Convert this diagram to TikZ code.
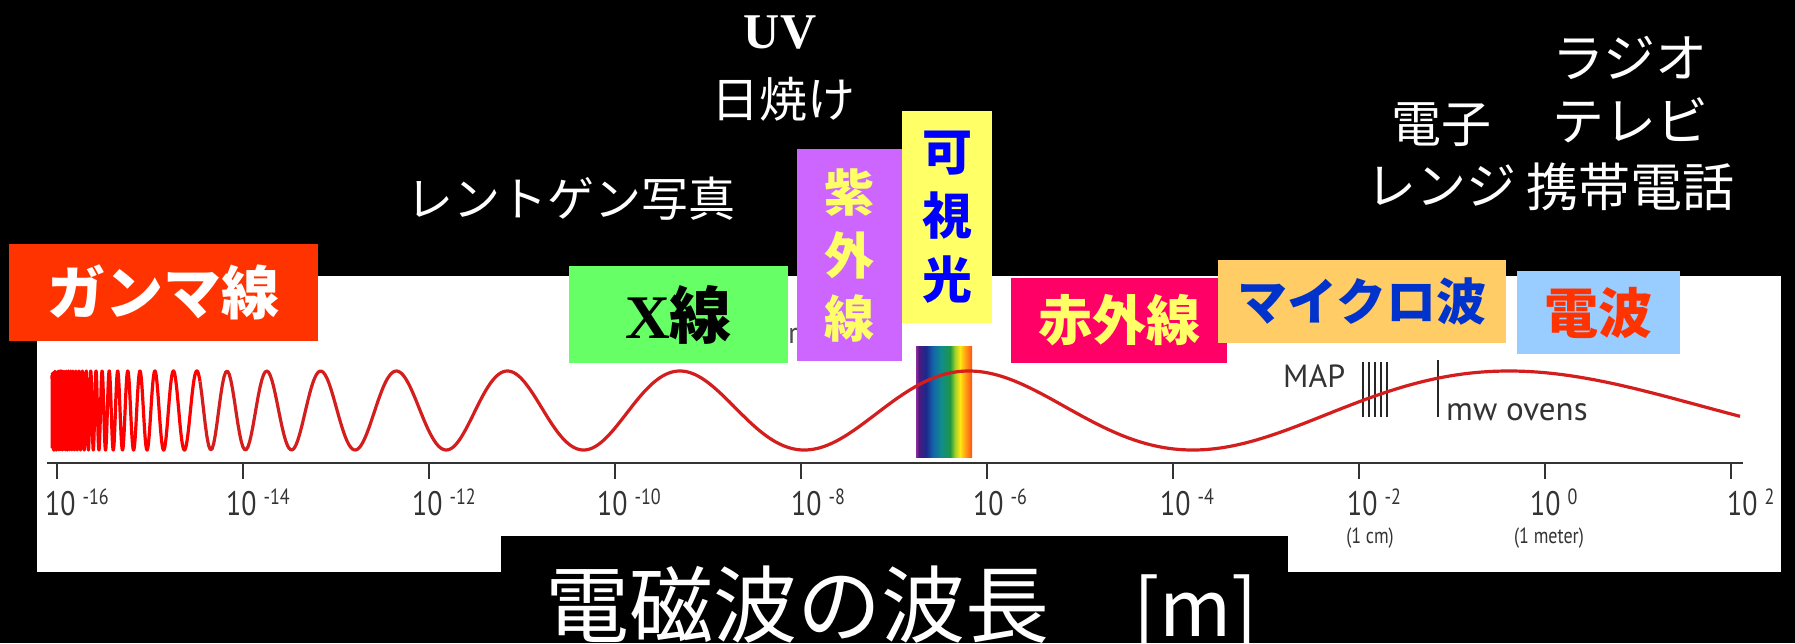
\documentclass[tikz,border=0pt]{standalone}
\usepackage{fontspec}
\setmainfont{Liberation Serif}
\newfontfamily\jp{Noto Sans CJK JP}
\newfontfamily\tms{Liberation Serif}
\newfontfamily\axf[FakeStretch=0.82]{PT Sans}
\newfontfamily\axn{PT Sans}
\definecolor{cGamma}{HTML}{FF3300}
\definecolor{cX}{HTML}{66FF66}
\definecolor{cUVbox}{HTML}{CC66FF}
\definecolor{cYel}{HTML}{FFFF66}
\definecolor{cBlue}{HTML}{0000FF}
\definecolor{cIR}{HTML}{FF0066}
\definecolor{cMW}{HTML}{FFCC66}
\definecolor{cMWtext}{HTML}{0033CC}
\definecolor{cRadio}{HTML}{99CCFF}
\definecolor{cWave}{HTML}{D41E1E}
\definecolor{cAxis}{HTML}{333333}
\definecolor{r1}{HTML}{8B2D9B}
\definecolor{r2}{HTML}{4B1A80}
\definecolor{r3}{HTML}{1A2A8C}
\definecolor{r4}{HTML}{1464A8}
\definecolor{r5}{HTML}{0F8C8C}
\definecolor{r6}{HTML}{1E9646}
\definecolor{r7}{HTML}{A0D228}
\definecolor{r8}{HTML}{FFE614}
\definecolor{r9}{HTML}{FF9614}
\definecolor{r10}{HTML}{FF5014}
\tikzset{
  box/.style={inner sep=0, outer sep=0, draw=none, align=center},
  wlabel/.style={inner sep=0, text=white, anchor=base, font={\jp\fontsize{50}{50}\selectfont}},
  ticklab/.style={inner sep=0, anchor=base west, text=cAxis, font={\axf\fontsize{34}{34}\selectfont}},
  smalllab/.style={inner sep=0, text=cAxis, font={\axf\fontsize{22}{22}\selectfont}},
  tickmark/.style={draw=cAxis, line width=2pt},
  wave/.style={line width=3.2pt, line join=round},
  bar/.style={draw=black!85, line width=2.8pt}
}
\begin{document}
\begin{tikzpicture}[x=1pt,y=-1pt]
\useasboundingbox (0,0) rectangle (1795,643);
\fill[black] (0,0) rectangle (1795,643);
% white chart panel
\fill[white] (37,276) rectangle (1781,572);
% remnant text fragment
\node[inner sep=0, anchor=base west, text=black!70, font={\axn\fontsize{30}{30}\selectfont}] (ra) at (788,343) {ra};
% rainbow
\shade[left color=r1, right color=r2] (916,346) rectangle (919,457);
\shade[left color=r2, right color=r3] (919,346) rectangle (926,457);
\shade[left color=r3, right color=r4] (926,346) rectangle (933,457);
\shade[left color=r4, right color=r5] (933,346) rectangle (941,457);
\shade[left color=r5, right color=r6] (941,346) rectangle (950,457);
\shade[left color=r6, right color=r7] (950,346) rectangle (955,457);
\shade[left color=r7, right color=r8] (955,346) rectangle (960,457);
\shade[left color=r8, right color=r9] (960,346) rectangle (966,457);
\shade[left color=r9, right color=r10] (966,346) rectangle (972,457);
% MAP and mw oven markers
\foreach \bx in {1363,1369,1375,1381,1387} \draw[bar] (\bx,362) -- (\bx,417);
\draw[bar] (1438,360) -- (1438,417);
\node[inner sep=0, anchor=base west, text=cAxis, font={\axn\fontsize{32}{32}\selectfont}] (map) at (1283,387) {MAP};
\node[inner sep=0, anchor=base west, text=cAxis, font={\axn\fontsize{33}{33}\selectfont}] (mw) at (1446,420) {mw ovens};
% wave
\draw[wave, draw=red] plot[domain=52:200, samples=1500, variable=\t] ({\t},{410.5-39.5*cos(1397.8-5357.2*(10/sqrt(\t-40)))});
\draw[wave, draw=cWave] plot[domain=200:1740, samples=900, variable=\t] ({\t},{410.5-39.5*cos(1397.8-5357.2*(10/sqrt(\t-40)))});
% axis
\draw[draw=cAxis, line width=2.4pt] (47,463) -- (1743,463);
\foreach \k in {0,...,9} \draw[tickmark] ({57+186*\k},463) -- ({57+186*\k},479);
\foreach \n/\xx/\s in {a/45/-16, b/226/-14, c/412/-12, d/597/-10, e/791/-8, f/973/-6, g/1160/-4, h/1347/-2, i/1530/0, j/1727/2}
  \node[ticklab] (t\n) at (\xx,515) {10\hspace{7pt}\raisebox{11pt}{\fontsize{22}{22}\selectfont\s}};
\node[smalllab] (cm) at (1370,538) {(1 cm)};
\node[smalllab] (meter) at (1549,538) {(1 meter)};
% coloured boxes
\node[box, fill=cGamma, minimum width=309, minimum height=97, text=white, font={\jp\bfseries\fontsize{58}{60}\selectfont}] (gamma) at (163.5,292.5) {ガンマ線};
\node[box, fill=cX, minimum width=219, minimum height=97, text=black, font={\jp\bfseries\fontsize{62}{64}\selectfont}] (xray) at (678.5,314.5) {{\tms\bfseries X}線};
\node[box, fill=cUVbox, minimum width=105, minimum height=212, text=cYel, font={\jp\bfseries\fontsize{50}{63}\selectfont}] (uvbox) at (849.5,255) {紫\\外\\線};
\node[box, fill=cYel, minimum width=90, minimum height=212, text=cBlue, font={\jp\bfseries\fontsize{50}{64}\selectfont}] (vis) at (947,217) {可\\視\\光};
\node[box, fill=cIR, minimum width=216, minimum height=85, text=cYel, font={\jp\bfseries\fontsize{54}{56}\selectfont}] (ir) at (1119,320.5) {赤外線};
\node[box, fill=cMW, minimum width=288, minimum height=83, text=cMWtext, font={\jp\bfseries\fontsize{50}{52}\selectfont}] (micro) at (1362,301.5) {マイクロ波};
\node[box, fill=cRadio, minimum width=163, minimum height=83, text=cGamma, font={\jp\bfseries\fontsize{54}{56}\selectfont}] (radio) at (1598.5,312.5) {電波};
% title
\fill[black] (501,536) rectangle (1288,643);
\node[inner sep=0, anchor=base west, text=white, font={\jp\fontsize{84}{90}\selectfont}] (title) at (545,636) {電磁波の波長　{\fontsize{78}{80}\selectfont[m]}};
% white usage labels
\node[wlabel, font={\tms\bfseries\fontsize{50}{50}\selectfont}] (uv) at (780,48) {UV};
\node[wlabel, font={\jp\fontsize{48}{48}\selectfont}] (sunburn) at (783,117) {日焼け};
\node[wlabel, font={\jp\fontsize{47}{47}\selectfont}] (roentgen) at (571,216) {レントゲン写真};
\node[wlabel] (denshi) at (1441,142) {電子};
\node[wlabel] (range) at (1441,204) {レンジ};
\node[wlabel, font={\jp\fontsize{52}{52}\selectfont}] (radioL) at (1630,77) {ラジオ};
\node[wlabel, font={\jp\fontsize{52}{52}\selectfont}] (tv) at (1630,140) {テレビ};
\node[wlabel, font={\jp\fontsize{52}{52}\selectfont}] (phone) at (1630,206) {携帯電話};
\end{tikzpicture}
\end{document}
